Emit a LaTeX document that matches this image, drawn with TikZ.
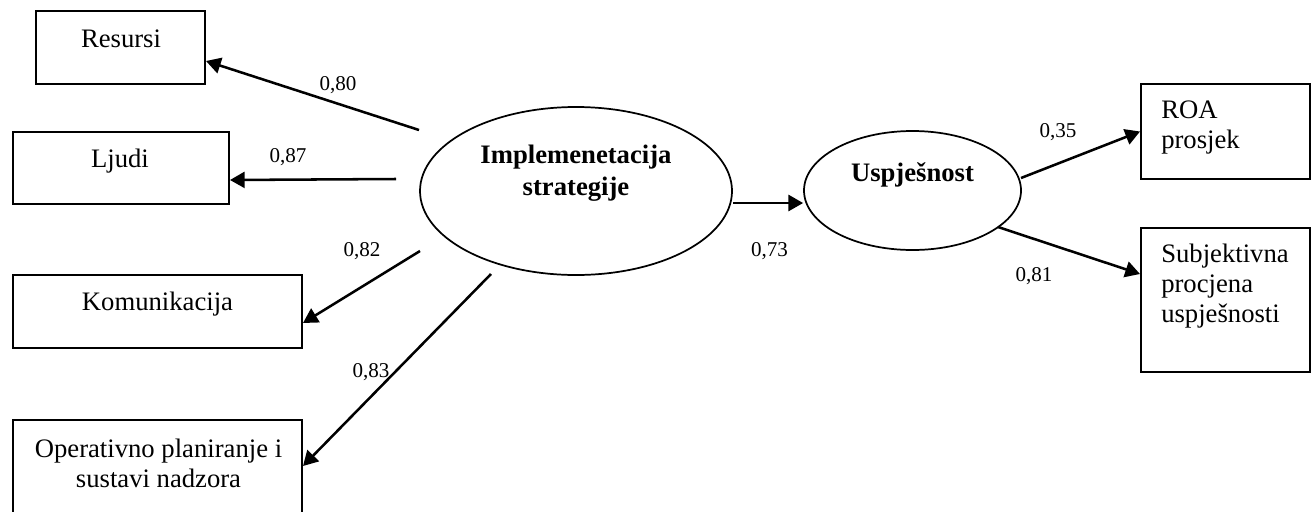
\documentclass[tikz,border=0pt]{standalone}
\usepackage{fontspec}
\setmainfont{Liberation Serif}
\usetikzlibrary{shapes.geometric,arrows.meta,calc}

\tikzset{
  box/.style={draw, line width=1.5pt, inner sep=0pt, anchor=north west},
  latent/.style={draw, ellipse, line width=1.3pt, inner sep=0pt},
  txt/.style={font=\fontsize{20}{22.5}\selectfont, inner sep=0pt, align=center, anchor=base},
  bold/.style={font=\bfseries\fontsize{20}{24}\selectfont, inner sep=0pt, align=center, anchor=base},
  coef/.style={font=\fontsize{15.8}{18}\selectfont, inner sep=0pt, anchor=base},
  arr/.style={-{Triangle[length=11pt,width=12pt]}, line width=1.9pt},
}

\begin{document}
\begin{tikzpicture}[x=0.75pt, y=-0.75pt]
\useasboundingbox (0,0) rectangle (1312,511);
% latent variables
\node[latent, minimum width=234pt, minimum height=126pt] (impl) at (576,191) {};
\node[latent, minimum width=162.75pt, minimum height=89.25pt] (usp) at (912.5,190.5) {};
\node[bold] (t_impl) at ($(impl)+(0,4)$) {Implemenetacija\\strategije};
\node[bold] (t_usp) at ($(usp)+(0,-9.5)$) {Uspješnost};
% indicators
\node[box, minimum width=126.75pt, minimum height=54.75pt] (res) at (35,10) {};
\node[box, minimum width=162pt, minimum height=54pt] (lju) at (12,131) {};
\node[box, minimum width=216.75pt, minimum height=54.75pt] (kom) at (12,274) {};
\node[box, minimum width=216.75pt, minimum height=72.75pt] (ops) at (12,419) {};
\node[box, minimum width=126.75pt, minimum height=71.25pt] (roa) at (1140,83) {};
\node[box, minimum width=126.75pt, minimum height=108pt] (sub) at (1140,227) {};
\node[txt] (t_res) at ($(res.north)+(0.5,37)$) {Resursi};
\node[txt] (t_lju) at ($(lju.north)+(-1,36)$) {Ljudi};
\node[txt] (t_kom) at ($(kom.north)+(0,36)$) {Komunikacija};
\node[txt] (t_ops) at ($(ops.north)+(1,68)$) {Operativno planiranje i\\sustavi nadzora};
\node[txt, align=left, anchor=base west] (t_roa) at ($(roa.north west)+(21,65)$) {ROA\\prosjek};
\node[txt, align=left, anchor=base west] (t_sub) at ($(sub.north west)+(21,95)$) {Subjektivna\\procjena\\uspješnosti};
% loadings
\draw[arr] ($(impl)+(-157,-61)$) -- ($(res.east)+(0,13.5)$);
\draw[arr] ($(impl)+(-180,-12)$) -- ($(lju.east)+(0,12)$);
\draw[arr] ($(impl)+(-156,60)$) -- ($(kom.east)+(0,11.5)$);
\draw[arr] ($(impl)+(-85,83)$) -- ($(ops.east)+(0,-2.5)$);
\draw[arr] ($(impl)+(157,12)$) -- ($(usp.west)+(0,12.5)$);
\draw[arr] ($(usp)+(108.5,-12.5)$) -- (roa.west);
\draw[arr] ($(usp)+(85.5,36.5)$) -- ($(sub.west)+(0,-26)$);
\node[coef] (c80) at (338,90) {0,80};
\node[coef] (c87) at (288,162) {0,87};
\node[coef] (c82) at (362,256) {0,82};
\node[coef] (c83) at (371,377) {0,83};
\node[coef] (c73) at (769.5,256) {0,73};
\node[coef] (c35) at (1058,137) {0,35};
\node[coef] (c81) at (1034,281) {0,81};
\end{tikzpicture}
\end{document}
